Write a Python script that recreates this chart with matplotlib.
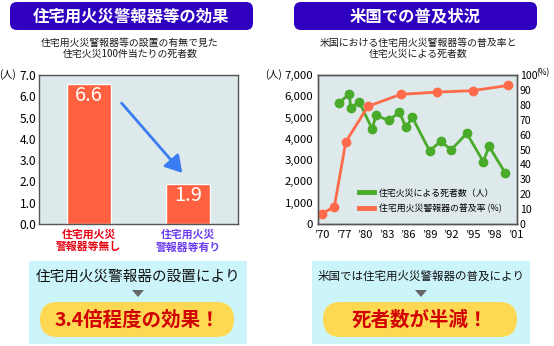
import numpy as np
import matplotlib
matplotlib.use('Agg')
import matplotlib.pyplot as plt
from matplotlib.patches import FancyBboxPatch, Rectangle, Polygon
from matplotlib.lines import Line2D

plt.rcParams['font.family'] = ['Noto Sans CJK JP', 'DejaVu Sans']

# left chart: deaths per 100 house fires
bar_labels = ['住宅用火災\n警報器等無し', '住宅用火災\n警報器等有り']
bar_values = [6.6, 1.9]
bar_label_colors = ['#e60012', '#6a3cf0']
left_yticks = [0.0, 1.0, 2.0, 3.0, 4.0, 5.0, 6.0, 7.0]

# right chart: USA
tick_years = [1970, 1977, 1980, 1983, 1986, 1989, 1992, 1995, 1998, 2001]
tick_labels = ["’70", "’77", "’80", "’83", "’86", "’89", "’92", "’95", "’98", "’01"]
death_years = [1975.5, 1977.8, 1978, 1979.2, 1981, 1981.5, 1983.3, 1984.8, 1985.7,
               1986.6, 1989, 1990.6, 1992, 1994.2, 1996.5, 1997.3, 1999.6]
deaths = [5700, 6100, 5450, 5730, 4450, 5100, 4870, 5250, 4540,
          5010, 3440, 3890, 3480, 4260, 2930, 3650, 2380]
rate_years = [1970, 1974, 1977.3, 1980.4, 1985, 1990, 1995, 2000]
rates = [7, 11.5, 55, 79, 87, 88.5, 89.5, 93]
death_ticks = [0, 1000, 2000, 3000, 4000, 5000, 6000, 7000]
rate_ticks = [0, 10, 20, 30, 40, 50, 60, 70, 80, 90, 100]

W, H = 554, 346
fig = plt.figure(figsize=(W / 100, H / 100), dpi=100)

bg = fig.add_axes([0, 0, 1, 1], zorder=0)
bg.set_xlim(0, W)
bg.set_ylim(H, 0)
bg.axis('off')


def px_axes(x0, y0, x1, y1):
    return fig.add_axes([x0 / W, 1 - y1 / H, (x1 - x0) / W, (y1 - y0) / H], zorder=2)


HEAD = '#3000c0'
PANEL = '#dde9ea'
SPINE = '#555555'

# headers
for x0, title in [(10, '住宅用火災警報器等の効果'), (294, '米国での普及状況')]:
    bg.add_patch(FancyBboxPatch((x0, 2), 243, 28, boxstyle='round,pad=0,rounding_size=7',
                                fc=HEAD, ec='none'))
    bg.text(x0 + 121.5, 16.5, title, color='white', fontsize=11.8, fontweight='bold',
            ha='center', va='center')

sub_kw = dict(fontsize=7.1, ha='center', va='center', color='#1a1a1a')
bg.text(130, 42.5, '住宅用火災警報器等の設置の有無で見た', **sub_kw)
bg.text(130, 53.5, '住宅火災100件当たりの死者数', **sub_kw)
bg.text(418, 42.5, '米国における住宅用火災警報器等の普及率と', **sub_kw)
bg.text(418, 53.5, '住宅火災による死者数', **sub_kw)

# ---- left chart
ax1 = px_axes(39, 75, 238, 224)
ax1.set_facecolor(PANEL)
xs = np.arange(len(bar_values))
ax1.bar(xs, bar_values, width=0.44, color='#ff6040', edgecolor='white', lw=1, zorder=2)
for x, v in zip(xs, bar_values):
    ax1.text(x, v - 0.58, f'{v:.1f}', color='white', fontsize=14.5, ha='center', va='center')
ax1.set_xlim(-0.5, 1.5)
ax1.set_ylim(0, 7)
ax1.set_yticks(left_yticks, [f'{v:.1f}' for v in left_yticks])
ax1.set_xticks(xs, bar_labels)
for lab, c in zip(ax1.get_xticklabels(), bar_label_colors):
    lab.set_color(c)
    lab.set_fontweight('bold')
    lab.set_linespacing(1.25)
ax1.tick_params(axis='x', length=0, pad=4, labelsize=7.8)
ax1.tick_params(axis='y', length=0, pad=2, labelsize=8.6)
for s in ax1.spines.values():
    s.set_color(SPINE)
    s.set_linewidth(1)
ax1.annotate('', xy=(0.94, bar_values[1] + 0.5), xytext=(0.33, bar_values[0] - 0.92),
             arrowprops=dict(arrowstyle='-|>,head_length=0.5,head_width=0.3', color='#3a7cf2',
                             lw=2, mutation_scale=20, shrinkA=0, shrinkB=0))
bg.text(8, 75, '(人)', fontsize=7.2, ha='center', va='center')

# ---- right chart
ax2 = px_axes(318, 75, 517, 224)
ax2.set_facecolor(PANEL)
ax3 = ax2.twinx()


def pos(years):
    return np.interp(years, tick_years, np.arange(len(tick_years)))


green = '#4aaa2a'
orange = '#ff6a4a'
ax2.plot(pos(death_years), deaths, color=green, lw=2, marker='o', ms=6)
ax3.plot(pos(rate_years), rates, color=orange, lw=2, marker='o', ms=6)
ax2.set_xlim(-0.19, 9.07)
ax2.set_ylim(0, 7000)
ax3.set_ylim(0, 100)
ax2.set_xticks(np.arange(len(tick_labels)), tick_labels)
ax2.set_yticks(death_ticks, [f'{v:,}' for v in death_ticks])
ax3.set_yticks(rate_ticks, [str(v) for v in rate_ticks])
ax2.tick_params(axis='x', length=0, pad=4.5, labelsize=8)
ax2.tick_params(axis='y', length=0, pad=3.5, labelsize=8.2)
ax3.tick_params(axis='y', length=0, pad=2, labelsize=7.6)
for a in (ax2, ax3):
    for s in a.spines.values():
        s.set_color(SPINE)
        s.set_linewidth(1)
bg.text(274, 75, '(人)', fontsize=7.2, ha='center', va='center')
bg.text(543, 73, '(%)', fontsize=6, ha='center', va='center')

handles = [Line2D([], [], color=green, lw=3.5), Line2D([], [], color=orange, lw=3.5)]
ax3.legend(handles, ['住宅火災による死者数（人）', '住宅用火災警報器の普及率 (%)'],
           loc='center left', bbox_to_anchor=(0.205, 0.155), frameon=False, fontsize=6.4,
           handlelength=1.7, handletextpad=0.6, labelspacing=0.7, borderpad=0, borderaxespad=0)

# ---- bottom boxes
boxes = [
    (29, '住宅用火災警報器の設置により', 10.5, '3.4倍程度の効果！'),
    (312, '米国では住宅用火災警報器の普及により', 8.3, '死者数が半減！'),
]
for x0, line, fs, slogan in boxes:
    cx = x0 + 109
    bg.add_patch(Rectangle((x0, 261), 218, 83, fc='#ccf5fb', ec='none'))
    bg.text(cx, 276.5, line, fontsize=fs, ha='center', va='center', color='#111111')
    bg.add_patch(Polygon([(cx - 6, 290), (cx + 6, 290), (cx, 297)], closed=True, fc='#666666', ec='none'))
    bg.add_patch(FancyBboxPatch((x0 + 11, 302), 194, 35, boxstyle='round,pad=0,rounding_size=17.5',
                                fc='#fdd953', ec='none'))
    bg.text(cx - 1, 320, slogan, fontsize=14, fontweight='bold', ha='center', va='center', color='#d20000')

fig.savefig('out.png', dpi=100)
